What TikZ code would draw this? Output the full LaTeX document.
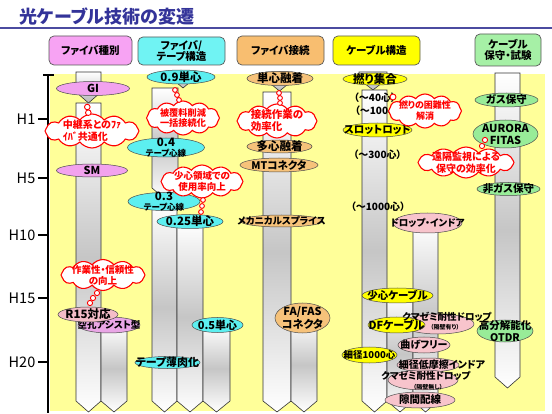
\documentclass[tikz,border=0pt]{standalone}
\usepackage{fontspec}
\setmainfont{Noto Sans CJK JP}[RawFeature=+palt]
\usetikzlibrary{shapes.geometric,shapes.symbols}
\definecolor{bgy}{HTML}{FFFF99}
\definecolor{titc}{HTML}{333399}
\definecolor{linec}{HTML}{4B4BA0}
\definecolor{hpink}{HTML}{F7A3F3}
\definecolor{hcyan}{HTML}{70F3F3}
\definecolor{horange}{HTML}{F8BE70}
\definecolor{hyel}{HTML}{FFFF00}
\definecolor{hgrn}{HTML}{A6F0A6}
\definecolor{epink}{HTML}{F2A2EE}
\definecolor{emag}{HTML}{E9A6E6}
\definecolor{rpink}{HTML}{F4BCC8}
\definecolor{dpink}{HTML}{F8C4CC}
\definecolor{ecyan}{HTML}{5CEFF0}
\definecolor{eor}{HTML}{F6C27A}
\definecolor{eyel}{HTML}{FFFF00}
\definecolor{egrn}{HTML}{98EC98}
\newcommand\myfs[2]{\fontsize{#1}{#2}\selectfont}
\tikzset{
  hdr/.style={rounded corners=5pt, draw=black!65, line width=0.7pt, align=center, inner sep=0pt, font=\bfseries\myfs{10.5}{11.5}},
  ovl/.style={ellipse, draw=black!70, line width=0.5pt, inner sep=0pt},
  lbl/.style={inner sep=0pt, align=center},
  cld/.style={cloud, cloud puffs=12, cloud puff arc=105, cloud ignores aspect, draw=red, fill=white, line width=1.1pt, inner sep=0pt},
  ctx/.style={text=red, inner sep=0pt},
  bub/.style={circle, draw=red, fill=white, line width=0.9pt, inner sep=0pt},
  barst/.style={draw=black!80, line width=0.6pt, top color=white, bottom color=white, middle color=gray!45},
  segst/.style={draw=black!80, line width=0.6pt, top color=white, bottom color=gray!55},
  tick/.style={line width=1.3pt},
  plain/.style={inner sep=0pt}
}
\newcommand\vbar[5][barst]{\path[#1] (#2,#4) -- (#3,#4) -- (#3,{#5-11}) -- ({(#2+#3)/2},#5) -- (#2,{#5-11}) -- cycle;}
\newcommand\ov[8]{\node[ovl, fill=#6, minimum width=#4pt, minimum height=#5pt] (#1) at (#2,#3) {};
  \node[lbl, font=\bfseries\myfs{#7}{#7}] (#1t) at (#1) {#8};}
\begin{document}
\begin{tikzpicture}[x=1pt,y=-1pt]
\useasboundingbox (0,0) rectangle (552,414);
\fill[white] (0,0) rectangle (552,414);
\fill[bgy] (50,74) rectangle (545,411);
% title
\node[anchor=west, text=titc, font=\bfseries\myfs{18}{18}, inner sep=0pt] (title) at (19,17) {光ケーブル技術の変遷};
\draw[linec, line width=2pt] (0,28) -- (552,28);
% headers
\node[hdr, fill=hpink, minimum width=83pt, minimum height=29pt] (h1) at (90.5,50.5) {ファイバ種別};
\node[hdr, fill=hcyan, minimum width=87pt, minimum height=28pt] (h2) at (181.5,51) {ファイバ/\\テープ構造};
\node[hdr, fill=horange, minimum width=87pt, minimum height=29pt] (h3) at (280.5,50.5) {ファイバ接続};
\node[hdr, fill=hyel, minimum width=87pt, minimum height=29pt] (h4) at (376.5,50.5) {ケーブル構造};
\node[hdr, fill=hgrn, minimum width=66pt, minimum height=32pt] (h5) at (508,50) {ケーブル\\保守・試験};
% axis
\coordinate (axT) at (48,75);
\coordinate (axB) at (48,413);
\coordinate (axL) at (43,75);
\coordinate (axR) at (54,75);
\draw[tick] (axT) -- (axB);
\draw[tick] (axL) -- (axR);
\foreach \y/\t in {119/H1,178/H5,235/H10,298/H15,362/H20}{
  \coordinate (tk\t) at (38,\y);
  \draw[tick] (tk\t) -- (48,\y);
  \node[anchor=east, font=\myfs{14.5}{14.5}, inner sep=0pt] (lab\t) at (35.5,\y) {\t};
}
% bars column 1
\vbar[segst]{76}{101}{72}{103}
\vbar{76}{101}{103}{412}
\vbar{101}{127}{325}{412}
% column 2
\vbar[segst]{170}{196}{72}{88}
\vbar[barst]{152}{178}{88}{199}
\vbar{152}{177}{203}{412}
\vbar{177}{203}{222}{412}
\vbar{203}{230}{325}{412}
% column 3
\vbar[segst]{266}{293}{72}{91}
\vbar{263}{291}{92}{412}
\vbar{291}{317}{318}{412}
% column 4
\vbar[segst]{359}{387}{72}{90}
\vbar{362}{387}{90}{412}
\vbar{387}{413}{296}{412}
\vbar{413}{438}{223}{412}
% column 5
\vbar{495}{520}{73}{388}
% column 1 items
\ov{gi}{93}{88.5}{73}{14}{epink}{11}{GI}
\ov{sm}{92}{170.5}{71}{13}{epink}{11}{SM}
\ov{kuko}{109}{325}{62}{16}{emag}{9.5}{空孔アシスト型}
\ov{r15}{88}{314.5}{60}{15}{rpink}{11.5}{R15対応}
% column 2 items
\ov{d09}{181}{77}{68}{14}{ecyan}{11.5}{0.9単心}
\ov{t04}{166}{147.5}{77}{19}{ecyan}{11.5}{0.4\\[-1.5pt]{\myfs{8.5}{8.5}テープ心線}}
\ov{t03}{164}{201.5}{72}{18}{ecyan}{11.5}{0.3\\[-1.5pt]{\myfs{8.5}{8.5}テープ心線}}
\ov{d025}{190}{221.5}{66}{14}{ecyan}{11.5}{0.25単心}
\ov{d05}{217.5}{325}{51}{15}{ecyan}{11}{0.5単心}
\ov{thin}{167.5}{362.5}{65}{12}{ecyan}{11}{テープ薄肉化}
% column 3 items
\ov{tan}{280}{78.5}{66}{14}{eor}{11.5}{単心融着}
\ov{ta}{279.5}{146.5}{65}{13}{eor}{11.5}{多心融着}
\ov{mt}{279}{165}{78}{14}{eor}{10.5}{MTコネクタ}
\ov{mech}{281.5}{221}{83}{12}{eor}{9.5}{メカニカルスプライス}
\ov{fa}{302.5}{318}{55}{30}{eor}{11}{FA/FAS\\[1pt]コネクタ}
% column 4 items
\ov{yori}{375}{79}{64}{12}{eyel}{11.5}{撚り集合}
\ov{slot}{377.5}{130}{69}{14}{eyel}{10.5}{スロットロッド}
\ov{drop}{427.5}{223}{69}{20}{dpink}{9.5}{ドロップ・インドア}
\ov{shou}{397.5}{295.5}{71}{15}{eyel}{10.5}{少心ケーブル}
\node[ovl, fill=dpink, minimum width=72pt, minimum height=20pt] (kuma1) at (438,324) {};
\ov{df}{396.5}{325}{57}{16}{eyel}{11}{DFケーブル}
\node[lbl, font=\bfseries\myfs{9.5}{9.5}] (kuma1t) at (447,317) {クマゼミ耐性ドロップ};
\node[lbl, font=\bfseries\myfs{6}{6}] (kuma1s) at (445,327.5) {（隔壁有り）};
\ov{mage}{424}{345}{52}{16}{dpink}{10}{曲げフリー}
\node[ovl, fill=dpink, minimum width=62pt, minimum height=14pt] (low) at (428,365) {};
\node[ovl, fill=dpink, minimum width=70pt, minimum height=20pt] (kuma2) at (423,380) {};
\node[lbl, font=\bfseries\myfs{10}{10}] (lowt) at (442,364.5) {細径低摩擦インドア};
\node[lbl, font=\bfseries\myfs{9.5}{9.5}] (kuma2t) at (426,376) {クマゼミ耐性ドロップ};
\node[lbl, font=\bfseries\myfs{6}{6}] (kuma2s) at (428,387) {（隔壁無し）};
\ov{suki}{420}{400}{70}{16}{dpink}{10.5}{隙間配線}
\ov{sai}{369.5}{355}{55}{16}{eyel}{9.5}{細径1000心}
\node[plain, font=\bfseries\myfs{10}{10}] (n40) at (375,98) {（～40心）};
\node[plain, font=\bfseries\myfs{10}{10}] (n100) at (379,111) {（～100心）};
\node[plain, font=\bfseries\myfs{10}{10}] (n300) at (377.5,155) {（～300心）};
\node[plain, font=\bfseries\myfs{10}{10}] (n1000) at (378,207) {（～1000心）};
% column 5 items
\ov{gas}{506.5}{100}{63}{14}{egrn}{10.5}{ガス保守}
\ov{aur}{505.5}{134}{65}{28}{egrn}{11}{AURORA\\[1pt]FITAS}
\ov{ngas}{508.5}{189}{63}{13}{egrn}{10.5}{非ガス保守}
\ov{otdr}{505}{331}{56}{22}{egrn}{10.5}{高分解能化\\[1pt]OTDR}
% clouds
\node[cld, minimum width=94pt, minimum height=34pt] (c1) at (92,131) {};
\node[ctx, align=left, font=\bfseries\myfs{10}{12}] (c1t) at (c1) {中継系とのﾌｧ\\ｲﾊﾞ共通化};
\node[cld, minimum width=73pt, minimum height=34pt] (c2) at (183,118) {};
\node[ctx, align=center, font=\bfseries\myfs{9.2}{10.5}] (c2t) at (c2) {被覆料削減\\一括接続化};
\node[cld, minimum width=82pt, minimum height=33pt] (c3) at (202,181.5) {};
\node[ctx, align=center, font=\bfseries\myfs{9.5}{11}] (c3t) at (c3) {少心領域での\\使用率向上};
\node[cld, minimum width=80pt, minimum height=34pt] (c4) at (277,121) {};
\node[ctx, align=left, font=\bfseries\myfs{10.5}{12}] (c4t) at (c4) {接続作業の\\効率化};
\node[cld, minimum width=73pt, minimum height=34pt] (c5) at (425,111) {};
\node[ctx, align=center, font=\bfseries\myfs{9}{11}] (c5t) at (c5) {撚りの困難性\\解消};
\node[cld, minimum width=96pt, minimum height=31pt] (c6) at (466,162.5) {};
\node[ctx, align=center, font=\bfseries\myfs{10}{11.5}] (c6t) at (c6) {遠隔監視による\\保守の効率化};
\node[cld, minimum width=84pt, minimum height=31pt] (c7) at (103,275) {};
\node[ctx, align=center, font=\bfseries\myfs{9.5}{11}] (c7t) at (c7) {作業性・信頼性\\の向上};
% bubbles
\node[bub, minimum size=5.6pt] (b11) at (87.3,107) {};
\node[bub, minimum size=5.6pt] (b12) at (88.3,112.7) {};
\node[bub, minimum size=4.8pt] (b21) at (175,90) {};
\node[bub, minimum size=4.8pt] (b22) at (177,95) {};
\node[bub, minimum size=4.8pt] (b23) at (179,100) {};
\node[bub, minimum size=4.8pt] (b31) at (279,93) {};
\node[bub, minimum size=4.8pt] (b32) at (280,98) {};
\node[bub, minimum size=4.8pt] (b33) at (280,103) {};
\node[bub, minimum size=6pt] (b41) at (393,97) {};
\node[bub, minimum size=4.8pt] (b51) at (203,200) {};
\node[bub, minimum size=4.8pt] (b52) at (202,206) {};
\node[bub, minimum size=4.8pt] (b53) at (201,212) {};
\node[bub, minimum size=5.2pt] (b61) at (485,140) {};
\node[bub, minimum size=5.2pt] (b62) at (482,146) {};
\node[bub, minimum size=5.2pt] (b71) at (97,293) {};
\node[bub, minimum size=5.2pt] (b72) at (93,298) {};
\node[bub, minimum size=5.2pt] (b73) at (90,303) {};
\end{tikzpicture}
\end{document}
